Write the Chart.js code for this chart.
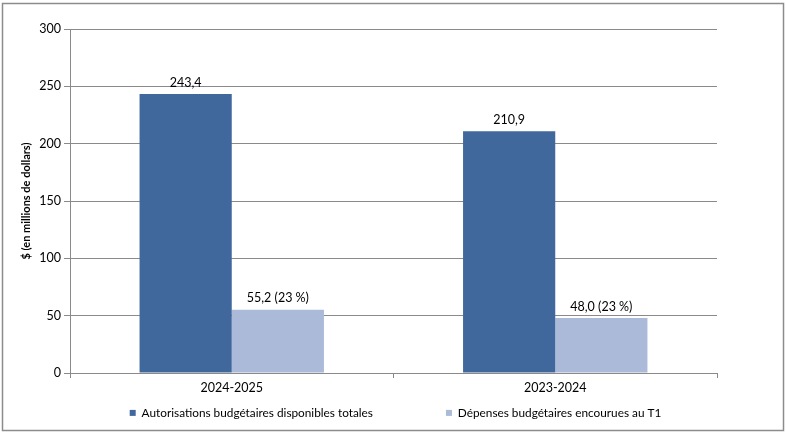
<!DOCTYPE html>
<html>
<head>
<meta charset="utf-8">
<script src="https://cdn.jsdelivr.net/npm/chart.js@4.4.0/dist/chart.umd.min.js"></script>
<style>
  html, body { margin: 0; padding: 0; background: #fff; }
  #wrap { width: 786px; height: 434px; position: relative; }
</style>
</head>
<body>
<div id="wrap"><canvas id="c" width="786" height="434"></canvas></div>
<script>
const categories = ['2024-2025', '2023-2024'];
const seriesNames = ['Autorisations budgétaires disponibles totales', 'Dépenses budgétaires encourues au T1'];
const authorities = [243.4, 210.9];
const spending = [55.2, 48.0];
const spendingPct = [23, 23];
const yTicks = [0, 50, 100, 150, 200, 250, 300];

const FONT = 'Lato, "Open Sans", sans-serif';
const GRID = '#8a8a8a';

function fmt(v) { return v.toFixed(1).replace('.', ','); }

const frame = {
  id: 'frame',
  beforeDraw(chart) {
    const ctx = chart.ctx;
    ctx.save();
    ctx.fillStyle = '#fff';
    ctx.fillRect(0, 0, chart.width, chart.height);
    ctx.strokeStyle = '#8c8c8c';
    ctx.lineWidth = 1.5;
    ctx.strokeRect(2.5, 3.5, 781, 427);
    ctx.restore();
  }
};

const barLabels = {
  id: 'barLabels',
  afterDatasetsDraw(chart) {
    const ctx = chart.ctx;
    ctx.save();
    ctx.font = '12.5px ' + FONT;
    ctx.fillStyle = '#000';
    ctx.textAlign = 'center';
    ctx.textBaseline = 'bottom';
    chart.data.datasets.forEach((ds, di) => {
      const meta = chart.getDatasetMeta(di);
      meta.data.forEach((bar, i) => {
        let t = fmt(ds.data[i]);
        if (di === 1) t += ' (' + spendingPct[i] + ' %)';
        ctx.fillText(t, bar.x, bar.y - 5);
      });
    });
    ctx.restore();
  }
};

const LEG_PAD = 73;
const legendPatch = {
  id: 'legendPatch',
  beforeUpdate(chart) {
    const lg = chart.legend;
    if (!lg || lg._patched) return;
    lg._patched = true;
    const origFit = lg.fit;
    lg.fit = function () {
      origFit.call(this);
      this.height = 22;
    };
    const origDraw = lg.draw;
    lg.draw = function () {
      const saved = { left: this.left, right: this.right, top: this.top };
      const dx = 395.5 - (this.left + this.right) / 2;
      this.left += dx;
      this.right += dx;
      this.top -= (LEG_PAD - 5);
      origDraw.call(this);
      this.left = saved.left;
      this.right = saved.right;
      this.top = saved.top;
    };
  }
};

new Chart(document.getElementById('c'), {
  type: 'bar',
  data: {
    labels: categories,
    datasets: [
      { label: seriesNames[0], data: authorities, backgroundColor: '#41689c', categoryPercentage: 0.57, barPercentage: 1.0 },
      { label: seriesNames[1], data: spending, backgroundColor: '#aabad8', categoryPercentage: 0.57, barPercentage: 1.0 }
    ]
  },
  options: {
    responsive: false,
    animation: false,
    devicePixelRatio: 1,
    layout: { padding: { left: 0, right: 69, top: 29, bottom: 10 } },
    scales: {
      x: {
        grid: { display: true, offset: true, drawOnChartArea: false, tickLength: 5, color: GRID },
        border: { color: GRID },
        ticks: { color: '#000', font: { family: FONT, size: 12.5 }, padding: 2 },
        afterFit(s) { s.height = 29; }
      },
      y: {
        min: 0, max: 300,
        afterBuildTicks(s) { s.ticks = yTicks.map(v => ({ value: v })); },
        grid: { color: GRID, tickLength: 6 },
        border: { color: GRID },
        ticks: { color: '#000', font: { family: FONT, size: 12.5 }, padding: 3 },
        title: { display: true, text: '$ (en millions de dollars)', color: '#000', font: { family: FONT, size: 11, weight: 'bold' }, padding: { top: 20, bottom: 0 } },
        afterFit(s) { s.width = 70; }
      }
    },
    plugins: {
      legend: {
        position: 'bottom',
        labels: { boxWidth: 6, boxHeight: 6, padding: LEG_PAD, color: '#000', font: { family: FONT, size: 11.8 } }
      },
      tooltip: { enabled: false }
    }
  },
  plugins: [frame, barLabels, legendPatch]
});
</script>
</body>
</html>
